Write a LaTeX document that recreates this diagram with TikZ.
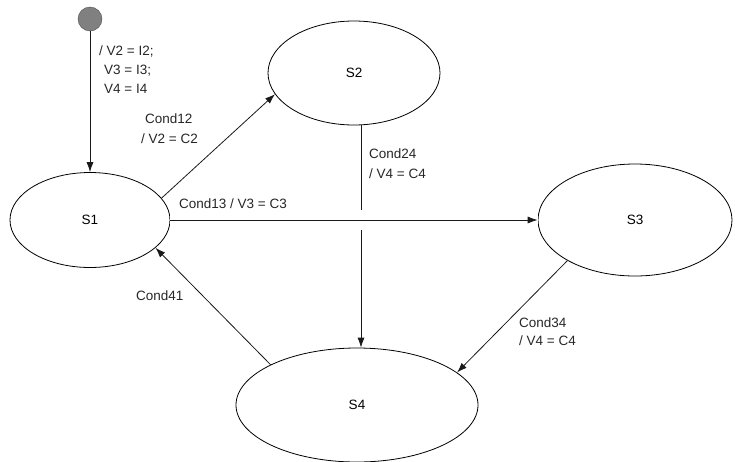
\documentclass[tikz,border=0pt]{standalone}
\usepackage{fontspec}
\setmainfont{Liberation Sans}
\usetikzlibrary{shapes.geometric,arrows.meta}
\begin{document}
\begin{tikzpicture}[x=1pt,y=-1pt,
  state/.style={ellipse,draw=black,line width=0.8pt,inner sep=0pt},
  lbl/.style={anchor=base west,inner sep=0pt,font=\fontsize{13.5}{16}\selectfont,text=black!85},
  tr/.style={draw=black!90,line width=0.8pt,-{Latex[length=10pt,width=7pt]}},
  every node/.append style={font=\fontsize{13.5}{16}\selectfont}]
\useasboundingbox (0,0) rectangle (735,461);
\node[circle,draw=black!70,fill=black!50,minimum size=24pt,inner sep=0pt] (init) at (90,19) {};
\node[state,minimum width=160pt,minimum height=95pt] (s1) at (90,220) {S1};
\node[state,minimum width=172pt,minimum height=104pt] (s2) at (354,73) {S2};
\node[state,minimum width=194pt,minimum height=112pt] (s3) at (635,220) {S3};
\node[state,minimum width=242pt,minimum height=114pt] (s4) at (357,405) {S4};
\coordinate (v) at (361,0);
% transitions
\draw[tr] (init) -- (s1.north);
\draw[tr] (s1.17) -- (s2.195);
\draw[tr] (s2.south -| v) -- (s4.north -| v);
\draw[tr,preaction={draw=white,line width=20pt,-}] (s1.east) -- (s3.west);
\draw[tr] (s3.211) -- (s4.18);
\draw[tr] (s4.155) -- (s1.-23);
% labels
\node[lbl] (l0a) at (99,55) {/ V2 = I2;};
\node[lbl] (l0b) at (104,74) {V3 = I3;};
\node[lbl] (l0c) at (104,93) {V4 = I4};
\node[lbl] (l12a) at (145,123) {Cond12};
\node[lbl] (l12b) at (141,143) {/ V2 = C2};
\node[lbl] (l13) at (179,208) {Cond13 / V3 = C3};
\node[lbl] (l24a) at (369,158) {Cond24};
\node[lbl] (l24b) at (369,178) {/ V4 = C4};
\node[lbl] (l34a) at (519,327) {Cond34};
\node[lbl] (l34b) at (519,345) {/ V4 = C4};
\node[lbl] (l41) at (136,300) {Cond41};
\end{tikzpicture}
\end{document}
